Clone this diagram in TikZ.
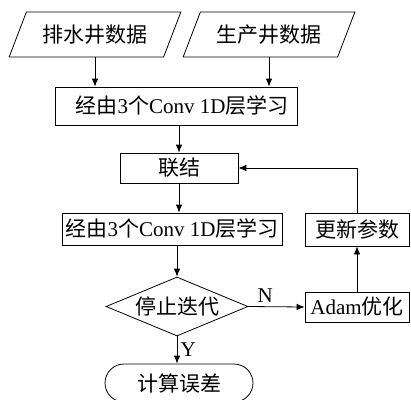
\documentclass[tikz,border=0pt]{standalone}
\usepackage{fontspec}
\setmainfont{Liberation Serif}
\newfontfamily\cjk{Noto Sans CJK SC}
\usetikzlibrary{calc,positioning,shapes.geometric,arrows.meta}
\tikzstyle{entry}=[draw, line width=0.8pt, inner sep=0pt, font=\fontsize{21}{25}\selectfont]
\tikzstyle{data}=[entry, trapezium, trapezium left angle=56, trapezium right angle=124,
trapezium stretches=true, minimum width=172pt, minimum height=45pt]
\tikzstyle{stage}=[entry, minimum height=32pt]
\tikzstyle{decide}=[entry, diamond, aspect=2.4, minimum width=142pt, minimum height=59pt]
\tikzstyle{finish}=[entry, rounded corners=19pt, minimum width=148pt, minimum height=38pt]
\tikzstyle{arrow}=[-{Latex[length=8pt,width=6.5pt]}, line width=0.8pt]

\begin{document}
\begin{tikzpicture}[x=1pt, y=-1pt]
\useasboundingbox (0,0) rectangle (411,399);

\node (drain) at (95,34.5) [data] {\cjk 排水井数据};
\node (prod) at (269,34.5) [data] {\cjk 生产井数据};

\node (conv1) at (176,106) [stage, minimum width=242pt, minimum height=38pt] {\hspace*{12pt}{\cjk 经由}3{\cjk 个}Conv 1D{\cjk 层学习}};
\node (join) at (179,168) [stage, minimum width=118pt, minimum height=30pt] {\cjk 联结};
\node (conv2) at (172,229) [stage, minimum width=220pt] {{\cjk 经由}3{\cjk 个}Conv 1D{\cjk 层学习}};
\node (update) at (357,229.5) [stage, minimum width=104pt, minimum height=33pt] {\cjk 更新参数};
\node (stop) at (177,306.5) [decide] {\cjk 停止迭代};
\node (adam) at (357,307) [stage, minimum width=104pt, minimum height=30pt] {Adam{\cjk 优化}};
\node (calc) at (179,383) [finish] {\cjk 计算误差};

\draw [arrow] (drain.south) -- (drain.south |- conv1.north);
\draw [arrow] (prod.south) -- (prod.south |- conv1.north);
\draw [arrow] (join.north |- conv1.south) -- (join.north);
\draw [arrow] (join.south) -- (join.south |- conv2.north);
\draw [arrow] (stop.north |- conv2.south) -- (stop.north);
\draw [arrow] (stop.east) -- (adam.west) node (nlabel) [pos=0.3, above, font=\fontsize{21}{25}\selectfont] {N};
\draw [arrow] (stop.south) -- (stop.south |- calc.north) node (ylabel) [midway, right, font=\fontsize{21}{25}\selectfont] {Y};
\draw [arrow] (adam.north) -- (update.south);
\draw [arrow] (update.north) |- (join.east);

\end{tikzpicture}
\end{document}
